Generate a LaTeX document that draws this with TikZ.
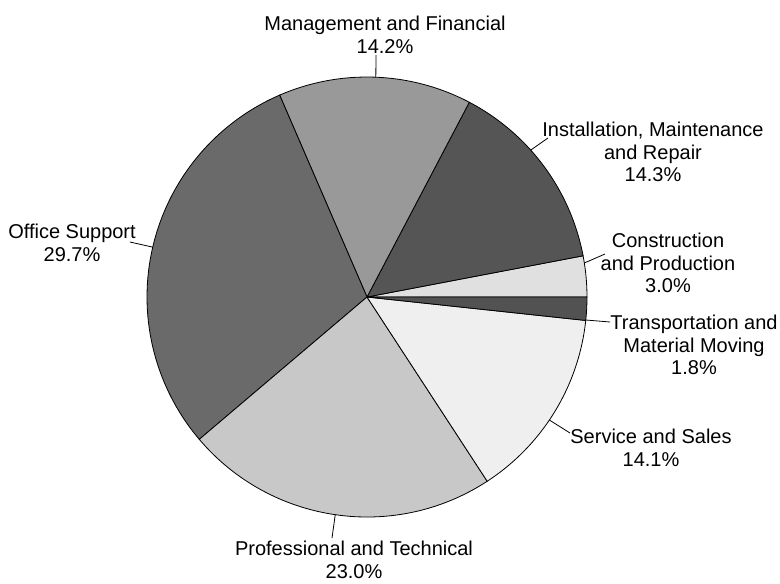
\documentclass[tikz,border=0pt]{standalone}
\usepackage{fontspec}
\setmainfont{Liberation Sans}
\usetikzlibrary{calc}

\definecolor{conGray}{HTML}{E0E0E0}
\definecolor{instGray}{HTML}{555555}
\definecolor{mgmtGray}{HTML}{999999}
\definecolor{offGray}{HTML}{6A6A6A}
\definecolor{profGray}{HTML}{C8C8C8}
\definecolor{servGray}{HTML}{EFEFEF}
\definecolor{transGray}{HTML}{525252}

\tikzset{
  wedge/.style={draw=black, semithick},
  lbl/.style={align=center, inner sep=0pt, font=\fontsize{15}{17}\selectfont},
  lead/.style={draw=black, semithick}
}

\begin{document}
\begin{tikzpicture}[x=0.75pt, y=0.75pt]
      \useasboundingbox (-367,-286) rectangle (413,297);
      \coordinate (o) at (0,0);
      % slices, counter-clockwise from 0 degrees
      \filldraw [wedge, fill=conGray] (o) -- (0:220) arc (0:10.8:220) -- cycle;
      \filldraw [wedge, fill=instGray] (o) -- (10.8:220) arc (10.8:62.28:220) -- cycle;
      \filldraw [wedge, fill=mgmtGray] (o) -- (62.28:220) arc (62.28:113.4:220) -- cycle;
      \filldraw [wedge, fill=offGray] (o) -- (113.4:220) arc (113.4:220.32:220) -- cycle;
      \filldraw [wedge, fill=profGray] (o) -- (220.32:220) arc (220.32:303.12:220) -- cycle;
      \filldraw [wedge, fill=servGray] (o) -- (303.12:220) arc (303.12:353.88:220) -- cycle;
      \filldraw [wedge, fill=transGray] (o) -- (353.88:220) arc (353.88:360:220) -- cycle;
      % labels
      \node [lbl] (mgmt) at (18,262) {Management and Financial\\14.2\%};
      \node [lbl] (inst) at (286,145) {Installation, Maintenance\\and Repair\\14.3\%};
      \node [lbl] (con) at (301,34) {Construction\\and Production\\3.0\%};
      \node [lbl] (trans) at (327,-48) {Transportation and\\Material Moving\\1.8\%};
      \node [lbl] (serv) at (284,-151) {Service and Sales\\14.1\%};
      \node [lbl] (prof) at (-13,-263) {Professional and Technical\\23.0\%};
      \node [lbl] (off) at (-295,54) {Office Support\\29.7\%};
      % leader lines
      \coordinate (mgmt-rim) at (87.7:220);  \coordinate (mgmt-end) at (9,242);
      \coordinate (inst-rim) at (41.9:220);  \coordinate (inst-end) at (181,159);
      \coordinate (con-rim) at (8.9:220);    \coordinate (con-end) at (238,43);
      \coordinate (trans-rim) at (-6.0:220); \coordinate (trans-end) at (243,-25);
      \coordinate (serv-rim) at (-34.0:220); \coordinate (serv-end) at (203,-136);
      \coordinate (prof-rim) at (-98.3:220); \coordinate (prof-end) at (-35,-241);
      \coordinate (off-rim) at (166.9:220);  \coordinate (off-end) at (-237,55);
      \path [lead]
      (mgmt-rim) -- (mgmt-end)
      (inst-rim) -- (inst-end)
      (con-rim) -- (con-end)
      (trans-rim) -- (trans-end)
      (serv-rim) -- (serv-end)
      (prof-rim) -- (prof-end)
      (off-rim) -- (off-end)
      ;
\end{tikzpicture}
\end{document}
